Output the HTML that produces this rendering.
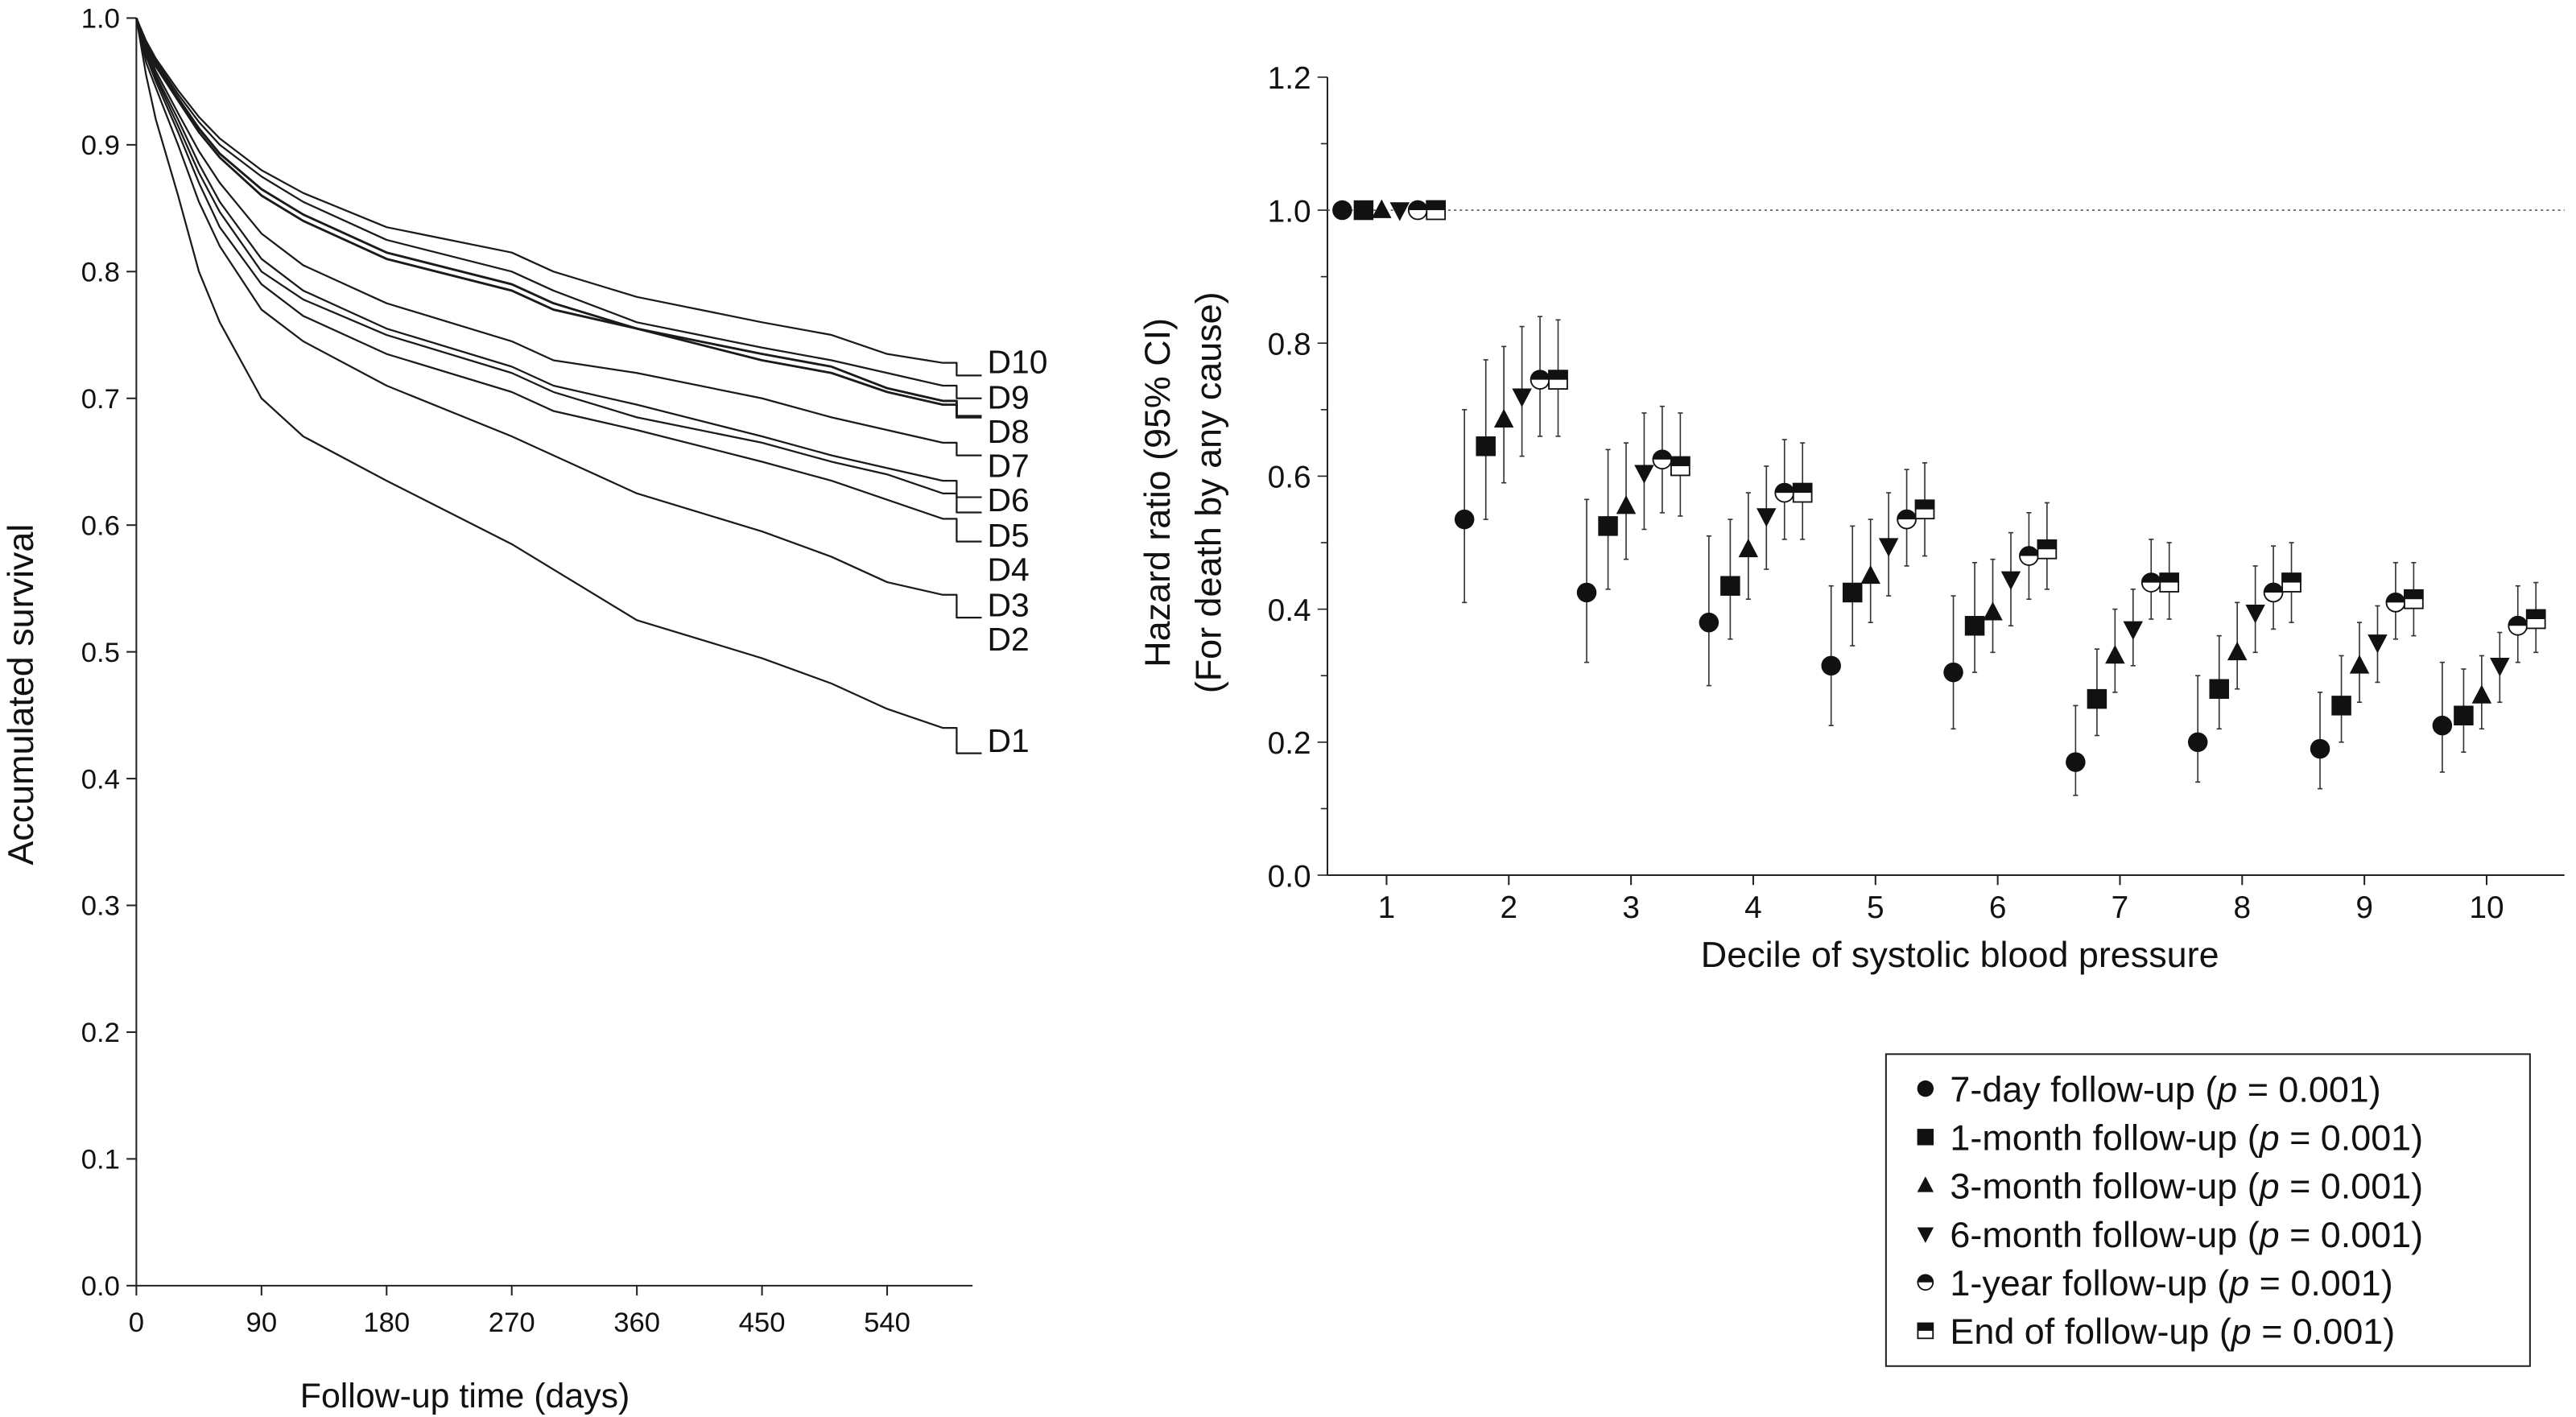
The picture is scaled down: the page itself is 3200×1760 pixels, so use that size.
<!DOCTYPE html>
<html><head><meta charset="utf-8">
<style>
html,body{margin:0;padding:0;background:#fff;}
svg{display:block;}
text{fill:#111;}
.tk{font-family:"Liberation Sans",sans-serif;}
.nar{font-family:"Liberation Sans Narrow","Liberation Sans",sans-serif;}
</style></head>
<body>
<svg id="chart" width="3200" height="1760" viewBox="0 0 1568 863" preserveAspectRatio="none">
<g id="left"></g>
<g id="right"></g>
<g id="legend"></g>
</svg>
<script>
// ---- survival data ----
const days = [0, 7, 14, 30, 45, 60, 90, 120, 180, 270, 300, 360, 450, 500, 540, 580, 590, 608];
const decileNames = ["D1","D2","D3","D4","D5","D6","D7","D8","D9","D10"];
const survD1  = [1, 0.955, 0.92, 0.86, 0.80, 0.76, 0.70, 0.67, 0.635, 0.585, 0.565, 0.525, 0.495, 0.475, 0.455, 0.44, 0.42, 0.42];
const survD2  = [1, 0.965, 0.945, 0.90, 0.855, 0.82, 0.77, 0.745, 0.71, 0.67, 0.655, 0.625, 0.595, 0.575, 0.555, 0.545, 0.527, 0.527];
const survD3  = [1, 0.97, 0.95, 0.91, 0.87, 0.835, 0.79, 0.765, 0.735, 0.705, 0.69, 0.675, 0.65, 0.635, 0.62, 0.605, 0.587, 0.587];
const survD4  = [1, 0.972, 0.953, 0.915, 0.878, 0.847, 0.80, 0.778, 0.75, 0.72, 0.705, 0.685, 0.665, 0.65, 0.64, 0.625, 0.61, 0.61];
const survD5  = [1, 0.974, 0.955, 0.92, 0.885, 0.855, 0.81, 0.785, 0.755, 0.725, 0.71, 0.695, 0.67, 0.655, 0.645, 0.635, 0.622, 0.622];
const survD6  = [1, 0.976, 0.958, 0.925, 0.895, 0.87, 0.83, 0.805, 0.775, 0.745, 0.73, 0.72, 0.70, 0.685, 0.675, 0.665, 0.655, 0.655];
const survD7  = [1, 0.978, 0.962, 0.935, 0.91, 0.89, 0.86, 0.84, 0.81, 0.785, 0.77, 0.755, 0.73, 0.72, 0.705, 0.695, 0.685, 0.685];
const survD8  = [1, 0.979, 0.964, 0.937, 0.913, 0.893, 0.865, 0.845, 0.815, 0.79, 0.775, 0.755, 0.735, 0.725, 0.708, 0.698, 0.686, 0.686];
const survD9  = [1, 0.98, 0.966, 0.94, 0.918, 0.90, 0.875, 0.855, 0.825, 0.80, 0.785, 0.76, 0.74, 0.73, 0.72, 0.71, 0.70, 0.70];
const survD10 = [1, 0.982, 0.968, 0.943, 0.922, 0.905, 0.88, 0.862, 0.835, 0.815, 0.80, 0.78, 0.76, 0.75, 0.735, 0.728, 0.718, 0.718];
const survAll = [survD1,survD2,survD3,survD4,survD5,survD6,survD7,survD8,survD9,survD10];
const labelValues = [0.43, 0.51, 0.537, 0.565, 0.592, 0.62, 0.647, 0.674, 0.701, 0.729];
const survTicks = ["0.0","0.1","0.2","0.3","0.4","0.5","0.6","0.7","0.8","0.9","1.0"];
const dayTicks = [0, 90, 180, 270, 360, 450, 540];

// ---- hazard ratio data ----
const deciles = [1,2,3,4,5,6,7,8,9,10];
const seriesNames = ["7-day follow-up","1-month follow-up","3-month follow-up","6-month follow-up","1-year follow-up","End of follow-up"];
const hr7d  = [1, 0.535, 0.425, 0.38, 0.315, 0.305, 0.17, 0.20, 0.19, 0.225];
const lo7d  = [1, 0.41, 0.32, 0.285, 0.225, 0.22, 0.12, 0.14, 0.13, 0.155];
const hi7d  = [1, 0.70, 0.565, 0.51, 0.435, 0.42, 0.255, 0.30, 0.275, 0.32];
const hr1m  = [1, 0.645, 0.525, 0.435, 0.425, 0.375, 0.265, 0.28, 0.255, 0.24];
const lo1m  = [1, 0.535, 0.43, 0.355, 0.345, 0.305, 0.21, 0.22, 0.20, 0.185];
const hi1m  = [1, 0.775, 0.64, 0.535, 0.525, 0.47, 0.34, 0.36, 0.33, 0.31];
const hr3m  = [1, 0.685, 0.555, 0.49, 0.45, 0.395, 0.33, 0.335, 0.315, 0.27];
const lo3m  = [1, 0.59, 0.475, 0.415, 0.38, 0.335, 0.275, 0.28, 0.26, 0.22];
const hi3m  = [1, 0.795, 0.65, 0.575, 0.535, 0.475, 0.40, 0.41, 0.38, 0.33];
const hr6m  = [1, 0.72, 0.605, 0.54, 0.495, 0.445, 0.37, 0.395, 0.35, 0.315];
const lo6m  = [1, 0.63, 0.52, 0.46, 0.42, 0.375, 0.315, 0.335, 0.29, 0.26];
const hi6m  = [1, 0.825, 0.695, 0.615, 0.575, 0.515, 0.43, 0.465, 0.405, 0.365];
const hr1y  = [1, 0.745, 0.625, 0.575, 0.535, 0.48, 0.44, 0.425, 0.41, 0.375];
const lo1y  = [1, 0.66, 0.545, 0.505, 0.465, 0.415, 0.385, 0.37, 0.355, 0.32];
const hi1y  = [1, 0.84, 0.705, 0.655, 0.61, 0.545, 0.505, 0.495, 0.47, 0.435];
const hrEnd = [1, 0.745, 0.615, 0.575, 0.55, 0.49, 0.44, 0.44, 0.415, 0.385];
const loEnd = [1, 0.66, 0.54, 0.505, 0.48, 0.43, 0.385, 0.38, 0.36, 0.335];
const hiEnd = [1, 0.835, 0.695, 0.65, 0.62, 0.56, 0.50, 0.50, 0.47, 0.44];
const hrTicks = ["0.0","0.2","0.4","0.6","0.8","1.0","1.2"];

const NS = "http://www.w3.org/2000/svg";
function mk(parent, tag, attrs, txt){
  const e = document.createElementNS(NS, tag);
  for (const k in attrs) e.setAttribute(k, attrs[k]);
  if (txt !== undefined) e.textContent = txt;
  parent.appendChild(e);
  return e;
}

// ===== LEFT CHART =====
const L = document.getElementById('left');
const lx = d => 83 + d * (457 / 540);
const ly = v => 783 - v * 772;
let el;
el = mk(L, 'line', {x1:83, y1:ly(1), x2:83, y2:783, stroke:'#222', 'stroke-width':1});


el = mk(L, 'line', {x1:83, y1:783, x2:592, y2:783, stroke:'#222', 'stroke-width':1});


survTicks.forEach((t, i) => {
  const y = ly(i / 10);
  mk(L, 'line', {x1:77, y1:y, x2:83, y2:y, stroke:'#222', 'stroke-width':1});
  el = mk(L, 'text', {x:73, y:y + 6, 'text-anchor':'end', class:'tk', style:'font-size:17px'}, t);
  
  
});
dayTicks.forEach(d => {
  const x = lx(d);
  mk(L, 'line', {x1:x, y1:783, x2:x, y2:789, stroke:'#222', 'stroke-width':1});
  el = mk(L, 'text', {x:x, y:811, 'text-anchor':'middle', class:'tk', style:'font-size:17px'}, String(d));
  
  
});
el = mk(L, 'text', {x:283, y:857, 'text-anchor':'middle', class:'tk', style:'font-size:21px'}, 'Follow-up time (days)');


el = mk(L, 'text', {x:0, y:0, 'text-anchor':'middle', class:'nar', style:'font-size:22px', transform:'translate(20,423) rotate(-90)'}, 'Accumulated survival');


survAll.forEach((s, k) => {
  let d = 'M' + lx(days[0]) + ',' + ly(s[0]);
  for (let i = 1; i < days.length; i++) {
    if (i >= days.length - 2) d += ' L' + lx(days[i]) + ',' + ly(s[i - 1]);
    d += ' L' + lx(days[i]) + ',' + ly(s[i]);
  }
  el = mk(L, 'path', {d:d, fill:'none', stroke:'#1a1a1a', 'stroke-width': (k === 6 || k === 7) ? 1.4 : 1.1, 'stroke-linejoin':'round'});
  
  
  el = mk(L, 'text', {x:601, y:ly(labelValues[k]) + 7, class:'tk', style:'font-size:20px'}, decileNames[k]);
  
  
});

// ===== RIGHT CHART =====
const R = document.getElementById('right');
const rx = d => 844 + (d - 1) * 74.4;
const ry = v => 533 - v * 405;
el = mk(R, 'line', {x1:808, y1:ry(1.2), x2:808, y2:533, stroke:'#222', 'stroke-width':1});


el = mk(R, 'line', {x1:808, y1:533, x2:1561, y2:533, stroke:'#222', 'stroke-width':1});


for (let i = 0; i <= 12; i++) {
  const y = ry(i / 10);
  mk(R, 'line', {x1:(i % 2 ? 804 : 802), y1:y, x2:808, y2:y, stroke:'#222', 'stroke-width':0.8});
}
hrTicks.forEach((t, i) => {
  el = mk(R, 'text', {x:798, y:ry(i * 0.2) + 7, 'text-anchor':'end', class:'nar', style:'font-size:19px'}, t);
  
  
});
deciles.forEach(d => {
  mk(R, 'line', {x1:rx(d), y1:533, x2:rx(d), y2:539, stroke:'#222', 'stroke-width':1});
  el = mk(R, 'text', {x:rx(d), y:559, 'text-anchor':'middle', class:'nar', style:'font-size:19px'}, String(d));
  
  
});
el = mk(R, 'line', {x1:808, y1:ry(1), x2:1561, y2:ry(1), stroke:'#555', 'stroke-width':0.8, 'stroke-dasharray':'1.5,2'});


el = mk(R, 'text', {x:1193, y:589, 'text-anchor':'middle', class:'nar', style:'font-size:22px'}, 'Decile of systolic blood pressure');


el = mk(R, 'text', {x:0, y:0, 'text-anchor':'middle', class:'tk', style:'font-size:22px', transform:'translate(712,300) rotate(-90)'}, 'Hazard ratio (95% CI)');


el = mk(R, 'text', {x:0, y:0, 'text-anchor':'middle', class:'tk', style:'font-size:22px', transform:'translate(743,300) rotate(-90)'}, '(For death by any cause)');



function marker(g, type, cx, cy, s) {
  if (type === 0) mk(g, 'circle', {cx:cx, cy:cy, r:s, fill:'#111'});
  else if (type === 1) mk(g, 'rect', {x:cx - s, y:cy - s, width:2 * s, height:2 * s, fill:'#111'});
  else if (type === 2) mk(g, 'polygon', {points:(cx) + ',' + (cy - s * 1.1) + ' ' + (cx - s) + ',' + (cy + s * 0.8) + ' ' + (cx + s) + ',' + (cy + s * 0.8), fill:'#111'});
  else if (type === 3) mk(g, 'polygon', {points:(cx) + ',' + (cy + s * 1.1) + ' ' + (cx - s) + ',' + (cy - s * 0.8) + ' ' + (cx + s) + ',' + (cy - s * 0.8), fill:'#111'});
  else if (type === 4) {
    mk(g, 'circle', {cx:cx, cy:cy, r:s - 0.4, fill:'#fff', stroke:'#111', 'stroke-width':0.9});
    mk(g, 'path', {d:'M' + (cx - s) + ',' + cy + ' A' + s + ',' + s + ' 0 0 1 ' + (cx + s) + ',' + cy + ' Z', fill:'#111'});
  } else {
    mk(g, 'rect', {x:cx - s + 0.4, y:cy - s + 0.4, width:2 * s - 0.8, height:2 * s - 0.8, fill:'#fff', stroke:'#111', 'stroke-width':0.9});
    mk(g, 'rect', {x:cx - s, y:cy - s, width:2 * s, height:s, fill:'#111'});
  }
}
const hrSeries = [hr7d, hr1m, hr3m, hr6m, hr1y, hrEnd];
const loSeries = [lo7d, lo1m, lo3m, lo6m, lo1y, loEnd];
const hiSeries = [hi7d, hi1m, hi3m, hi6m, hi1y, hiEnd];
const offsets = [-27, -14, -3, 8, 19, 30];
hrSeries.forEach((vals, si) => {
  const g = mk(R, 'g', {});
  
  
  vals.forEach((v, i) => {
    const cx = rx(deciles[i]) + offsets[si];
    if (hiSeries[si][i] !== loSeries[si][i]) {
      el = mk(g, 'line', {x1:cx, y1:ry(loSeries[si][i]), x2:cx, y2:ry(hiSeries[si][i]), stroke:'#333', 'stroke-width':0.8});
      
      
      mk(g, 'line', {x1:cx - 1.5, y1:ry(loSeries[si][i]), x2:cx + 1.5, y2:ry(loSeries[si][i]), stroke:'#333', 'stroke-width':0.8});
      mk(g, 'line', {x1:cx - 1.5, y1:ry(hiSeries[si][i]), x2:cx + 1.5, y2:ry(hiSeries[si][i]), stroke:'#333', 'stroke-width':0.8});
    }
    const mg = mk(g, 'g', {});
    
    
    marker(mg, si, cx, ry(v), 6);
  });
});

// ===== LEGEND =====
const G = document.getElementById('legend');
el = mk(G, 'rect', {x:1148, y:642, width:392, height:190, fill:'#fff', stroke:'#222', 'stroke-width':1});


seriesNames.forEach((n, i) => {
  const y = 663 + i * 29.5;
  const g = mk(G, 'g', {});
  
  
  marker(g, i, 1172, y, 5);
  const t = mk(g, 'text', {x:1187, y:y + 8, class:'nar', style:'font-size:22px'});
  mk(t, 'tspan', {}, n + ' (');
  mk(t, 'tspan', {'font-style':'italic'}, 'p');
  mk(t, 'tspan', {}, ' = 0.001)');
});
</script>
</body></html>
